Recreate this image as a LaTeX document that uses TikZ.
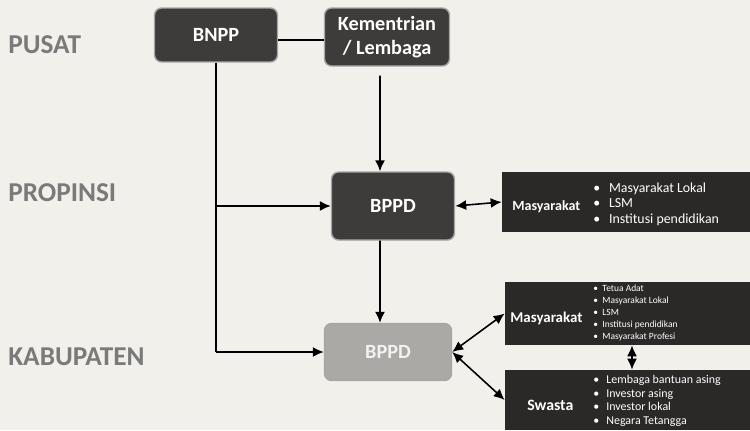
\documentclass[tikz,border=0pt]{standalone}
\usepackage{fontspec}
\setmainfont{Carlito}
\usetikzlibrary{arrows.meta,positioning,calc}
\definecolor{paper}{HTML}{F2F0EA}
\definecolor{boxdark}{HTML}{3E3C3B}
\definecolor{boxpale}{HTML}{ABA9A6}
\definecolor{groupdark}{HTML}{2A2928}
\definecolor{levelgray}{HTML}{7A7A7A}
\newcommand{\blt}[1]{\textbullet\hspace{#1}}
\tikzset{
  lvl/.style={anchor=west,inner sep=0pt,font=\bfseries\fontsize{15.5}{17}\selectfont,text=levelgray},
  unit/.style={draw=gray!70,line width=0.8pt,rounded corners=4pt,fill=boxdark,text=white,
    align=center,font=\bfseries\fontsize{11.5}{13.5}\selectfont},
  group/.style={fill=groupdark,draw=none,inner sep=0pt},
  ttl/.style={anchor=west,inner sep=0pt,text=white,font=\bfseries\fontsize{8}{10}\selectfont},
  lst/.style={anchor=west,inner sep=0pt,text=white,align=left},
  link/.style={line width=0.9pt,-{Latex[length=2.2mm,width=2mm]}},
  both/.style={line width=0.9pt,{Latex[length=2.2mm,width=2mm]}-{Latex[length=2.2mm,width=2mm]}}
}
\begin{document}
\begin{tikzpicture}[x=0.02cm,y=-0.02cm]
\fill[paper] (0,0) rectangle (750,430);

% levels
\node[lvl] (pusat) at (8,45) {PUSAT};
\node[lvl] (prop) at (8,193) {PROPINSI};
\node[lvl] (kab) at (8,357) {KABUPATEN};

% units
\node[unit,minimum width=2.46cm,minimum height=1.08cm] (bnpp) at (216,35) {BNPP};
\node[unit,minimum width=2.5cm,minimum height=1.16cm] (kl) at (387,37) {Kementrian\\/ Lembaga};
\node[unit,minimum width=2.46cm,minimum height=1.36cm] (bppdp) at (393,206) {BPPD};
\node[unit,fill=boxpale,text=white!90!gray,minimum width=2.54cm,minimum height=1.14cm] (bppdk) at (388,352) {BPPD};

% masyarakat propinsi
\node[group,minimum width=4.96cm,minimum height=1.2cm] (mas1) at (626,202) {};
\node[ttl] (mas1t) at (512,207) {Masyarakat};
\node[lst,font=\fontsize{7.9}{8.8}\selectfont] (mas1l) at (593,204)
  {\blt{5pt}Masyarakat Lokal\\ \blt{5pt}LSM\\ \blt{5pt}Institusi pendidikan};

% masyarakat kabupaten
\node[group,minimum width=4.9cm,minimum height=1.26cm] (mas2) at (627.5,313.5) {};
\node[ttl,font=\bfseries\fontsize{8.5}{10}\selectfont] (mas2t) at (510,318) {Masyarakat};
\node[lst,font=\fontsize{5.4}{6.7}\selectfont] (mas2l) at (593,313)
  {\blt{2.5pt}Tetua Adat\\ \blt{2.5pt}Masyarakat Lokal\\ \blt{2.5pt}LSM\\
   \blt{2.5pt}Institusi pendidikan\\ \blt{2.5pt}Masyarakat Profesi};

% swasta
\node[group,minimum width=4.9cm,minimum height=1.2cm] (sw) at (627.5,400) {};
\node[ttl,font=\bfseries\fontsize{9}{11}\selectfont] (swt) at (527,405) {Swasta};
\node[lst,font=\fontsize{6.8}{7.8}\selectfont] (swl) at (593,401)
  {\blt{4pt}Lembaga bantuan asing\\ \blt{4pt}Investor asing\\ \blt{4pt}Investor lokal\\ \blt{4pt}Negara Tetangga};

% connectors
\draw[line width=0.9pt] ([yshift=-0.1cm]bnpp.east) -- ([yshift=-0.1cm]bnpp.east -| kl.west);
\draw[line width=0.9pt] (bnpp.south) -- (bnpp.south |- bppdk.west);
\draw[link] (bnpp.south |- bppdp.west) -- (bppdp.west);
\draw[link] (bnpp.south |- bppdk.west) -- (bppdk.west);
\draw[link] ([xshift=-0.14cm,yshift=-0.18cm]kl.south) -- ([xshift=-0.26cm]bppdp.north);
\draw[link] ([xshift=-0.26cm]bppdp.south) -- ([xshift=-0.16cm]bppdk.north);
\draw[both] (bppdp.east) -- (mas1.west);
\draw[both] (bppdk.east) -- (mas2.west);
\draw[both] (bppdk.east) -- (sw.west);
\draw[both] ([xshift=0.09cm]mas2.south) -- ([xshift=0.09cm]sw.north);
\end{tikzpicture}
\end{document}
